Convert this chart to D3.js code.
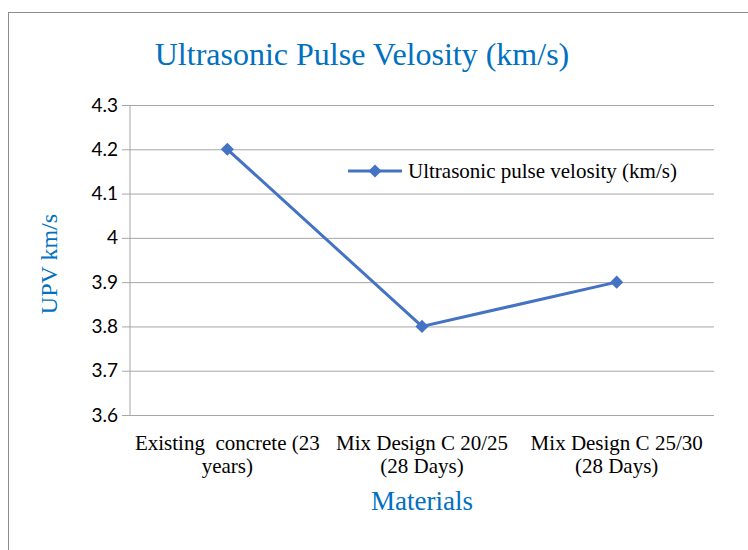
<!DOCTYPE html>
<html>
<head>
<meta charset="utf-8">
<script src="https://cdn.jsdelivr.net/npm/d3@7"></script>
<style>
  body { margin: 0; background: #fff; }
</style>
</head>
<body>
<div id="chart"></div>
<script>
// chart data
var categories = [["Existing  concrete (23", "years)"], ["Mix Design C 20/25", "(28 Days)"], ["Mix Design C 25/30", "(28 Days)"]];
var upvValues = [4.2, 3.8, 3.9];
var yTicks = [3.6, 3.7, 3.8, 3.9, 4, 4.1, 4.2, 4.3];
var seriesName = "Ultrasonic pulse velosity (km/s)";

var svgWidth = 748;
var svgHeight = 550;

var margin = { top: 105, right: 34, bottom: 135, left: 130 };
var width = svgWidth - margin.left - margin.right;
var height = svgHeight - margin.top - margin.bottom;

var blue = "#0070C0";
var lineColor = "#4472C4";
var gridColor = "#a6a6a6";
var serif = "'Liberation Serif', 'Times New Roman', serif";

var svg = d3.select("#chart")
  .append("svg")
  .attr("width", svgWidth)
  .attr("height", svgHeight);

// outer frame
svg.append("rect")
  .attr("x", 8.5).attr("y", 12.5)
  .attr("width", svgWidth + 20).attr("height", svgHeight + 20)
  .attr("fill", "none")
  .attr("stroke", "#8c8c8c");

var chartGroup = svg.append("g")
  .attr("transform", `translate(${margin.left}, ${margin.top})`);

var xScale = d3.scaleBand()
  .domain(d3.range(categories.length))
  .range([0, width]);

var yScale = d3.scaleLinear()
  .domain([3.6, 4.3])
  .range([height, 0]);

// gridlines
chartGroup.append("g")
  .call(d3.axisLeft(yScale).tickValues(yTicks).tickSize(-width).tickFormat(""))
  .call(g => g.select(".domain").remove())
  .call(g => g.selectAll("line").attr("stroke", gridColor));

// y axis
var leftAxis = chartGroup.append("g")
  .call(d3.axisLeft(yScale).tickValues(yTicks).tickSize(8).tickPadding(4).tickFormat(d3.format("")));
leftAxis.select(".domain").attr("stroke", gridColor).attr("d", `M0,${height}V0`);
leftAxis.selectAll("line").attr("stroke", gridColor);
leftAxis.selectAll("text")
  .attr("font-family", "Lato, 'Open Sans', sans-serif")
  .attr("font-size", 19)
  .attr("fill", "#000");

// x axis baseline
chartGroup.append("line")
  .attr("x1", -8).attr("x2", width)
  .attr("y1", height + 0.5).attr("y2", height + 0.5)
  .attr("stroke", gridColor);

// x labels
var xLabels = chartGroup.selectAll(".xlab")
  .data(categories)
  .enter()
  .append("text")
  .attr("class", "xlab")
  .attr("text-anchor", "middle")
  .attr("font-family", serif)
  .attr("font-size", 21)
  .attr("fill", "#000")
  .attr("transform", (d, i) => `translate(${xScale(i) + xScale.bandwidth() / 2}, ${height + 35})`);

xLabels.selectAll("tspan")
  .data(d => d)
  .enter()
  .append("tspan")
  .attr("x", 0)
  .attr("dy", (d, i) => i === 0 ? 0 : 23)
  .attr("xml:space", "preserve")
  .style("white-space", "pre")
  .text(d => d);

// line
var line = d3.line()
  .x((d, i) => xScale(i) + xScale.bandwidth() / 2)
  .y(d => yScale(d));

chartGroup.append("path")
  .datum(upvValues)
  .attr("d", line)
  .attr("fill", "none")
  .attr("stroke", lineColor)
  .attr("stroke-width", 3);

var diamond = d3.symbol().type(d3.symbolDiamond2).size(110);

chartGroup.selectAll(".marker")
  .data(upvValues)
  .enter()
  .append("path")
  .attr("class", "marker")
  .attr("d", diamond)
  .attr("transform", (d, i) => `translate(${xScale(i) + xScale.bandwidth() / 2}, ${yScale(d)})`)
  .attr("fill", lineColor);

// legend
var legend = svg.append("g")
  .attr("transform", "translate(348, 171)");
legend.append("line")
  .attr("x1", 0).attr("x2", 54)
  .attr("stroke", lineColor)
  .attr("stroke-width", 3);
legend.append("path")
  .attr("d", diamond)
  .attr("transform", "translate(27, 0)")
  .attr("fill", lineColor);
legend.append("text")
  .attr("x", 60)
  .attr("y", 7)
  .attr("font-family", serif)
  .attr("font-size", 21)
  .attr("fill", "#000")
  .text(seriesName);

// title
svg.append("text")
  .attr("x", 362)
  .attr("y", 65)
  .attr("text-anchor", "middle")
  .attr("font-family", serif)
  .attr("font-size", 32)
  .attr("fill", blue)
  .text("Ultrasonic Pulse Velosity (km/s)");

// axis titles
svg.append("text")
  .attr("transform", `translate(57, ${margin.top + height / 2 + 4}) rotate(-90)`)
  .attr("text-anchor", "middle")
  .attr("font-family", serif)
  .attr("font-size", 24)
  .attr("fill", blue)
  .text("UPV km/s");

svg.append("text")
  .attr("x", margin.left + width / 2)
  .attr("y", 510)
  .attr("text-anchor", "middle")
  .attr("font-family", serif)
  .attr("font-size", 27)
  .attr("fill", blue)
  .text("Materials");
</script>
</body>
</html>
